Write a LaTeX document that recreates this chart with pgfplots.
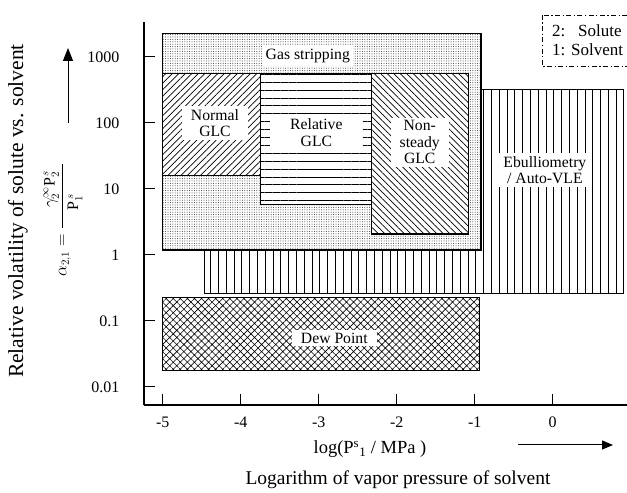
\documentclass[border=0pt]{standalone}
\usepackage{fontspec}
\setmainfont{Liberation Serif}
\usepackage{pgfplots}
\pgfplotsset{compat=1.18}
\usetikzlibrary{patterns.meta,arrows.meta}
\begin{document}
\begin{tikzpicture}[x=1pt,y=1pt]
\clip (0,0) rectangle (627,493);
\begin{axis}[at={(144pt,88pt)}, anchor=south west, scale only axis,
  width=490.6pt, height=383pt,
  xmin=-5.24, xmax=1.05, ymode=log, ymin=0.00533, ymax=3388,
  axis x line*=bottom, axis y line*=left,
  axis line style={line width=1.2pt},
  xtick={-5,-4,-3,-2,-1,0,1}, xticklabels={-5,-4,-3,-2,-1,0,1},
  ytick={0.01,0.1,1,10,100,1000}, yticklabels={0.01,0.1,1,10,100,1000},
  yminorticks=false, xminorticks=false,
  tick align=inside, major tick length=11pt,
  tick style={line width=1pt, black},
  tick label style={font=\fontsize{16}{16}\selectfont},
  xticklabel style={yshift=-8pt},
  yticklabel style={xshift=-21pt},
  clip=false,
]
% Ebulliometry / Auto-VLE
\addplot[draw=black, line width=1.1pt, pattern={Lines[angle=90,distance=7.8pt,line width=0.8pt]}]
  coordinates {(-4.47,0.257) (0.91,0.257) (0.91,325) (-4.47,325)} -- cycle;
% Gas stripping
\addplot[draw=black, line width=1.2pt, fill=white, postaction={pattern={Dots[radius=0.5pt,distance=2.4pt]}, pattern color=black!80}]
  coordinates {(-5,1.19) (-0.92,1.19) (-0.92,2240) (-5,2240)} -- cycle;
% Normal GLC
\addplot[draw=black, line width=1.1pt, fill=white, postaction={pattern={Lines[angle=45,distance=4.6pt,line width=0.7pt]}}]
  coordinates {(-5,15.8) (-3.75,15.8) (-3.75,560) (-5,560)} -- cycle;
% Relative GLC
\addplot[draw=black, line width=1.1pt, fill=white, postaction={pattern={Lines[angle=0,distance=7.9pt,line width=0.8pt]}}]
  coordinates {(-3.75,5.9) (-2.32,5.9) (-2.32,560) (-3.75,560)} -- cycle;
% Non-steady GLC
\addplot[draw=black, line width=1.1pt, fill=white, postaction={pattern={Lines[angle=-45,distance=4.6pt,line width=0.7pt]}}]
  coordinates {(-2.32,2.08) (-1.08,2.08) (-1.08,560) (-2.32,560)} -- cycle;
% Dew Point
\addplot[draw=black, line width=1.1pt, pattern={Hatch[angle=45,distance=5pt,line width=0.6pt]}]
  coordinates {(-5,0.0177) (-0.94,0.0177) (-0.94,0.23) (-5,0.23)} -- cycle;

\begin{scope}[every node/.style={fill=white, align=center, font=\fontsize{15.7}{16.5}\selectfont, inner ysep=3pt}]
\node[inner xsep=3pt] at (axis cs:-3.14,1035) {Gas stripping};
\node[inner xsep=9pt] at (axis cs:-4.33,100) {Normal\\GLC};
\node[inner xsep=20pt] at (axis cs:-3.03,71) {Relative\\GLC};
\node[inner xsep=9pt] at (axis cs:-1.705,51) {Non-\\steady\\GLC};
\node[inner xsep=5pt] at (axis cs:-0.1,19.4) {Ebulliometry\\/ Auto-VLE};
\node[inner xsep=9pt] at (axis cs:-2.8,0.055) {Dew Point};
\end{scope}
\end{axis}
% y title
\node[rotate=90, font=\fontsize{21.5}{22}\selectfont] at (18,282) {Relative volatility of solute vs. solvent};
% formula
\node[rotate=90, anchor=east, font=\fontsize{16}{16}\selectfont, inner sep=0pt] at (63,330)
  {$\displaystyle\alpha_{2,1} = \frac{\hspace{20pt}\gamma_2^{\infty}\mathrm{P}_2^{\,s}\hspace{6pt}}{\hspace{14pt}\mathrm{P}_1^{\,s}\hspace{26pt}}$};
\draw[line width=1pt, -{Triangle[length=13pt,width=10pt]}] (68,370) -- (68,445);
% x titles
\node[font=\fontsize{18.5}{19}\selectfont] at (370,44) {log(P\textsuperscript{s}\textsubscript{1} / MPa )};
\draw[line width=1pt, -{Triangle[length=11pt,width=9pt]}] (518,48) -- (613,48);
\node[font=\fontsize{19.5}{20}\selectfont] at (398,13) {Logarithm of vapor pressure of solvent};
% legend box
\draw[line width=0.9pt, dash pattern=on 5pt off 2.5pt on 1.2pt off 2.5pt] (542,478) rectangle (640,427);
\node[anchor=west, font=\fontsize{17}{17}\selectfont, inner sep=0pt] at (552,462) {2:};
\node[anchor=west, font=\fontsize{17}{17}\selectfont, inner sep=0pt] at (578,462) {Solute};
\node[anchor=west, font=\fontsize{17}{17}\selectfont, inner sep=0pt] at (552,443) {1: Solvent};
\end{tikzpicture}
\end{document}
